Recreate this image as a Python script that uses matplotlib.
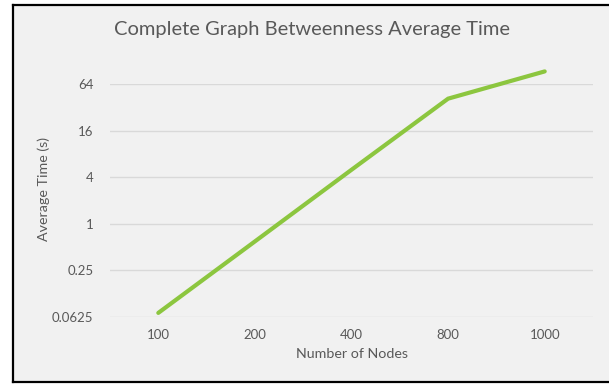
import matplotlib.pyplot as plt
from matplotlib.patches import Rectangle

## Data
nodes = ["100", "200", "400", "800", "1000"]
avg_time = [0.070, 0.59, 5.0, 41.7, 94.0]
y_ticks = [0.0625, 0.25, 1, 4, 16, 64]
y_tick_labels = ["0.0625", "0.25", "1", "4", "16", "64"]

plt.rcParams['font.family'] = ['Lato', 'DejaVu Sans']
txt = '#595959'

fig = plt.figure(figsize=(6.09, 3.84), dpi=100, facecolor='white')

## chart area with black frame (left, top, bottom)
W, H = 609, 384
bg = '#f1f1f1'
fig.patches.append(Rectangle((12 / W, 1 - 382 / H), 1, (382 - 4) / H,
                             transform=fig.transFigure, facecolor=bg,
                             edgecolor='none', zorder=-10))
for (x0, y0, x1, y1) in [(12.5, 4.5, 609, 4.5), (12.5, 4.5, 12.5, 381.5),
                         (12.5, 381.5, 609, 381.5)]:
    fig.add_artist(plt.Line2D([x0 / W, x1 / W], [1 - y0 / H, 1 - y1 / H],
                              transform=fig.transFigure, color='black', lw=1.6,
                              zorder=-5))

ax = fig.add_axes([110 / W, 1 - 316.7 / H, (593 - 110) / W, (316.7 - 84.3) / H])
ax.set_zorder(5)
ax.set_facecolor('none')
ax.set_yscale('log', base=2)
ax.set_ylim(0.0625, 64)
ax.set_xlim(-0.5, len(nodes) - 0.5)

ax.plot(range(len(nodes)), avg_time, color='#8cc63f', lw=3,
        solid_capstyle='round', solid_joinstyle='miter', clip_on=False, zorder=3)

ax.set_yticks(y_ticks)
ax.set_yticklabels(y_tick_labels)
ax.minorticks_off()
ax.set_xticks(range(len(nodes)))
ax.set_xticklabels(nodes)
ax.tick_params(axis='both', length=0, labelsize=9.5, colors=txt)
ax.tick_params(axis='y', pad=12)
ax.tick_params(axis='x', pad=9)
ax.grid(axis='y', color='#d9d9d9', lw=1)
ax.set_axisbelow(True)
for s in ax.spines.values():
    s.set_visible(False)

ax.set_xlabel('Number of Nodes', fontsize=10.3, color=txt, labelpad=5)
fig.text(44 / W, 1 - 188.5 / H, 'Average Time (s)', rotation=90, fontsize=10.3,
         color=txt, ha='center', va='center')
fig.text(311.5 / W, 1 - 30 / H, 'Complete Graph Betweenness Average Time',
         fontsize=14.5, color=txt, ha='center', va='center')

fig.savefig('out.png', dpi=100, facecolor='white')
